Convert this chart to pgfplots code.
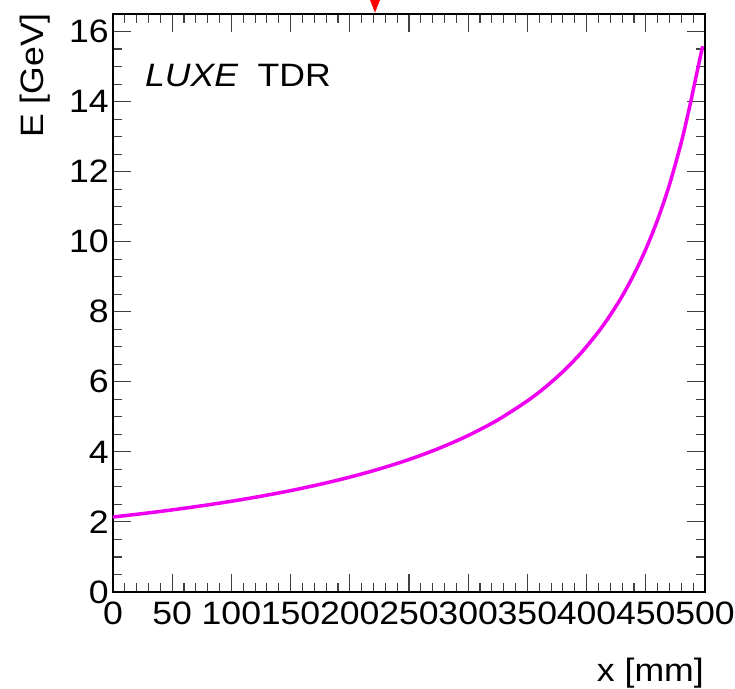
\documentclass[border=0pt]{standalone}
\usepackage{fontspec}
\setmainfont{Liberation Sans}[FakeStretch=1.1]
\usepackage{pgfplots}
\pgfplotsset{compat=1.18}
\definecolor{rootmag}{RGB}{240,0,240}
\begin{document}
\begin{tikzpicture}
\path[use as bounding box] (-113bp,-97bp) rectangle (622bp,592bp);
\begin{axis}[
  at={(0,0)}, anchor=south west,
  scale only axis, width=592bp, height=578bp,
  xmin=0, xmax=500, ymin=0, ymax=16.5,
  xtick={0,50,...,500}, ytick={0,2,...,16},
  minor x tick num=4, minor y tick num=3,
  tick align=inside,
  major tick length=18bp, minor tick length=9bp,
  every tick/.style={black!75, line width=1.1bp},
  axis line style={line width=1.4bp, black},
  /pgf/number format/assume math mode=true,
  tick label style={font=\fontsize{32.5}{34}\selectfont, inner sep=0pt},
  xticklabel style={anchor=north, yshift=-10bp},
  yticklabel style={anchor=east, xshift=-4bp},
  xlabel={x [mm]}, ylabel={E [GeV]},
  label style={font=\fontsize{32.5}{34}\selectfont, inner sep=0pt},
  xlabel style={at={(axis description cs:0.9983,-0.1557)}, anchor=base east},
  ylabel style={at={(axis description cs:-0.1182,1.0017)}, anchor=base east},
  clip=false,
]
\addplot[rootmag, line width=3.5bp, smooth] coordinates {
(0,2.141) (25,2.238) (50,2.344) (75,2.461) (100,2.590) (125,2.734)
(150,2.894) (175,3.075) (200,3.279) (225,3.513) (250,3.782) (275,4.096)
(300,4.467) (325,4.912) (350,5.456) (365,5.843) (380,6.291) (395,6.812)
(410,7.428) (420,7.904) (430,8.445) (440,9.066) (450,9.786) (460,10.63)
(470,11.63) (480,12.84) (487,13.85) (493,14.80) (498,15.58)
};
\addplot[only marks, mark=triangle*, mark size=8bp, color=red,
  mark options={rotate=180, xscale=0.68, fill=red, draw=red}] coordinates {(221.3,16.785)};
\node[anchor=base west, inner sep=0pt, font=\fontsize{32.5}{34}\selectfont]
  at (axis cs:27,14.42) {\textit{LUXE}\hspace{19bp}TDR};
\end{axis}
\end{tikzpicture}
\end{document}
